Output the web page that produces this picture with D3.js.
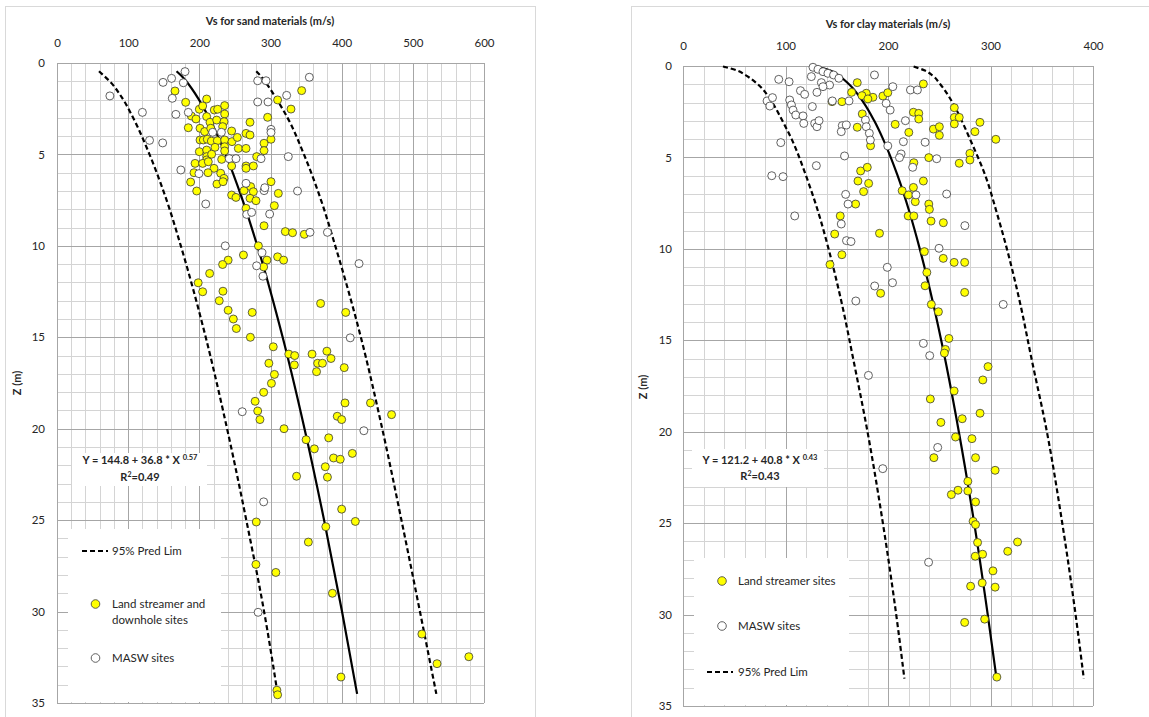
<!DOCTYPE html>
<html><head><meta charset="utf-8">
<script src="https://cdn.jsdelivr.net/npm/d3@7"></script>
<style>
body{margin:0;background:#fff}
svg{display:block}
text{font-family:Lato,"Open Sans",sans-serif;fill:#262626}
</style>
</head><body>
<svg id="c" width="1149" height="717"></svg>
<script>
// ---------------- DATA ----------------
const sandXTicks = [0, 100, 200, 300, 400, 500, 600];
const clayXTicks = [0, 100, 200, 300, 400];
const depthTicks = [0, 5, 10, 15, 20, 25, 30, 35];

const sandTitle = "Vs for sand materials (m/s)";
const clayTitle = "Vs for clay materials (m/s)";
const depthTitle = "Z (m)";

// [Vs (m/s), Z (m)]
const sandLand = [
 [165.8,1.53],[180.8,2.15],[210.3,1.97],[343.8,1.51],[310,2.02],[328.8,2.52],[200,2.53],[204.7,2.35],
 [221,2.57],[225.8,2.53],[235.6,2.33],[235.6,2.79],[188.8,2.9],[195.3,3.06],[210.3,2.93],[215,3.24],
 [224.4,3.12],[234.7,3.21],[232.8,3.48],[184.5,3.54],[201,3.57],[207.5,3.75],[216,3.57],[271.2,3.24],
 [296,2.97],[245.4,3.72],[265.6,3.85],[271.2,3.94],[300.7,4.17],[290.9,4.39],[290.9,4.79],[201,4.21],
 [205.6,4.21],[211.2,4.17],[216.9,4.27],[225.3,4.25],[235.6,4.21],[235.6,4.58],[235.6,4.81],[245.9,4.3],
 [253.4,4.07],[254.8,4.67],[265.6,4.67],[222,4.61],[200,4.85],[210.3,4.76],[210.3,5.12],[210.3,5.3],
 [217.3,4.99],[231.4,5.27],[280.6,5.12],[194,5.49],[204.7,5.49],[212.6,5.4],[220.6,5.76],[212.2,6.0],
 [265.6,5.63],[265.6,5.76],[275.9,5.63],[245.4,5.63],[192.5,6.0],[230,6.03],[187.8,6.51],[224.7,6.62],
 [234.7,6.31],[233.3,6.49],[196.3,7.0],[245.4,7.22],[251.5,7.35],[262.8,6.98],[272.1,6.76],[275.9,7.04],
 [271.2,7.4],[279.6,7.53],[300.7,6.49],[311,7.13],[305.4,7.8],[265.6,7.95],[290.9,8.9],[320.8,9.22],
 [331,9.28],[347.5,9.37],
 [283,10.0],[262,10.5],[310,10.6],[318.4,10.78],[295,10.78],[240.5,10.78],[232.7,11.02],[290.4,11.15],
 [214.5,11.51],[198.4,12.02],[204.7,12.51],[233.2,12.48],[228,13.0],[370.4,13.15],[240.5,13.52],[274.3,13.64],
 [405.7,13.64],[247.8,14.0],[252,14.52],[271.7,15.0],[303.9,15.52],[325.7,15.92],[334,16.0],[358.4,15.92],
 [379.2,15.76],[385,16.16],[297.7,16.42],[333.5,16.51],[366.2,16.42],[373,16.42],[364.7,16.88],[403.6,16.66],
 [305.5,17.03],[301.3,17.52],[290.4,18.01],[278.4,18.5],[404.7,18.59],[440.5,18.59],[282,19.03],[285.2,19.5],
 [393.8,19.32],[400,19.5],[470.1,19.23],[319,20.0],[350,20.6],[381.8,20.5],[361.6,21.1],[415,21.35],
 [388.6,21.6],[398,21.67],[377,22.08],[336.6,22.6],[380,22.65],[400,24.4],[280,25.1],[419.2,25.07],
 [377.7,25.36],[353.2,26.2],[279.5,27.42],[307.5,27.86],[387,29.0],[512.7,31.23],[578.7,32.47],[534,32.85],
 [399,33.58],[309,34.3],[310,34.55]
];
const sandMasw = [
 [179.9,0.47],[149,1.06],[161,0.84],[177.5,1.08],[162,1.93],[120,2.7],[167,2.81],[184.5,2.7],
 [130,4.23],[148.5,4.37],[174,5.85],[199.5,6.05],[209,7.71],[282,0.97],[293.7,0.97],[354.6,0.78],
 [322.7,1.77],[282,2.13],[296.5,2.13],[300.7,3.63],[300.7,3.8],[218.7,3.79],[231,3.79],[242,5.23],
 [251.5,5.23],[286.7,5.23],[325,5.12],[265.6,6.58],[291,6.98],[292,6.82],[338,7.0],[266.5,8.28],
 [273.5,8.17],[298.8,8.26],[355.5,9.26],[380,9.26],[74.3,1.8],[236.4,10.0],[288,10.38],[280.5,11.09],
 [424.4,10.97],[289.4,11.66],[412,15.03],[260.3,19.07],[431.2,20.11],[290.4,24.0],[282.6,30.04]
];
const sandFit = [[168,0.45],[174.8,0.7],[181.6,1],[199.4,2],[213.6,3],[236.9,5],[260.8,7.5],[281.5,10],
 [317.1,15],[347.8,20],[375.3,25],[400.5,30],[421.7,34.5]];
const sandLower = [[59,0.45],[66,0.7],[74,1],[93,2],[107,3],[130,5],[154,7.5],[174,10],
 [209,15],[239,20],[266,25],[291,30],[310,34.5]];
const sandUpper = [[280,0.45],[286,0.7],[292,1],[309,2],[324,3],[347,5],[371,7.5],[391,10],
 [427,15],[457,20],[484,25],[510,30],[533,34.5]];

const clayLand = [
 [170,0.91],[234.5,0.98],[164.5,1.44],[178.8,1.49],[174.6,1.62],[185.3,1.71],[195,1.64],[199.8,1.46],
 [145.4,1.95],[155.1,1.95],[180.4,1.8],[174.9,2.62],[224.8,2.53],[230,2.59],[230,2.9],[264.7,2.28],
 [264.7,2.81],[264.7,3.17],[269.5,2.81],[207,3.19],[220.3,3.63],[244.3,3.45],[250.1,3.32],[250.1,3.79],
 [284.8,3.59],[289.7,3.08],[305.2,4.01],[170,3.35],[183,4.36],[225.2,5.29],[239.8,5.01],[269.5,5.32],
 [279.9,4.78],[279.9,5.14],[173.3,5.74],[179.8,5.54],[170.7,6.29],[181.1,6.42],[176.2,6.87],[213.8,6.82],
 [220,7.05],[224.8,6.64],[234.5,6.29],[226.6,7.42],[239.8,7.55],[240.4,7.84],[219.7,8.2],[225.2,8.2],
 [242,8.48],[254,8.57],[168.4,7.55],[153.4,8.2],[191.7,9.15],[148,9.19],
 [143.4,10.86],[155,10.32],[235.5,10.15],[253.9,10.52],[264.5,10.74],[274.8,10.74],[274.8,12.38],[192.8,12.43],
 [237.9,11.29],[236.2,12.02],[242.3,13.04],[249.2,13.44],[259.4,14.9],[256,15.5],[255,15.7],[297.6,16.44],
 [292.5,17.17],[264.5,17.77],[241.3,18.21],[289.8,18.99],[272.4,19.29],[251.6,19.49],[265.9,20.29],[281.9,20.38],
 [244.8,21.42],[285.4,21.42],[304.5,22.11],[277.9,22.71],[268.3,23.2],[277.9,23.24],[261.8,23.44],[285.4,23.84],
 [283,24.9],[285.4,25.08],[287.4,26.06],[326.4,26.03],[316.8,26.54],[292.3,26.7],[285.1,26.81],[302.4,27.61],
 [280.6,28.45],[291.9,28.27],[304.5,28.5],[294.3,30.25],[274.8,30.43],[306.2,33.42]
];
const clayMasw = [
 [126.8,0.07],[131.7,0.18],[136.6,0.31],[141.4,0.4],[146.9,0.49],[152.1,0.67],[125.2,0.58],[93.4,0.73],
 [103.5,0.86],[186.8,0.49],[135,0.91],[143,1.04],[136.6,1.13],[130.7,1.44],[114.6,1.35],[118.7,1.55],
 [82,1.91],[87.3,1.73],[84.7,2.19],[104.1,1.86],[105.8,2.13],[107.4,2.41],[110,2.68],[117.1,2.73],
 [117.8,3.14],[126.2,2.22],[128.5,3.14],[130.7,3.32],[132.7,2.99],[145.7,1.91],[162,1.91],[155.4,3.26],
 [159.3,3.23],[154.4,3.59],[178,2.95],[178.8,3.32],[181.8,3.68],[182.8,4.05],[204.7,1.13],[198.2,2.04],
 [202.1,2.41],[221.9,1.31],[228.7,1.31],[217,2.99],[215,4.14],[199.8,4.37],[212.8,4.81],[211.2,5.01],
 [236.2,4.17],[247.5,5.07],[224.1,5.54],[227.3,7.05],[257.2,7.0],[275,8.73],[95.4,4.19],[86.6,6.0],
 [97.6,6.05],[130.1,5.45],[157.6,4.92],[158.7,7.02],[161,7.55],[109,8.2],[154.4,8.64],
 [159.5,9.55],[163.9,9.6],[249.8,9.97],[199.3,11.01],[204.4,11.85],[187,12.03],[168.6,12.85],[312.4,13.04],
 [234.5,15.17],[240.7,15.84],[180.9,16.92],[248.5,20.86],[194.9,22.02],[239.6,27.14]
];
const clayFit = [[130,0.03],[143.7,0.25],[151.5,0.5],[162,1],[176.2,2],[186.6,3],[195.2,4],[209.4,6],
 [221,8],[231,10],[244.1,13],[255.6,16],[269.1,20],[284.1,25],[297.3,30],[305.9,33.5]];
const clayLower = [[39,0.03],[53,0.25],[61,0.5],[73,1],[87,2],[97,3],[106,4],[120,6],
 [132,8],[142,10],[155,13],[166,16],[180,20],[195,25],[208,30],[216,33.5]];
const clayUpper = [[225,0.03],[236,0.25],[243,0.5],[251,1],[263,2],[272,3],[280,4],[295,6],
 [306,8],[316,10],[329,13],[340,16],[355,20],[370,25],[383,30],[391,33.5]];

const sandEq = ["Y = 144.8 +  36.8 * X ", "0.57", "R", "2", "=0.49"];
const clayEq = ["Y = 121.2 +  40.8 * X ", "0.43", "R", "2", "=0.43"];
const sandLegend = ["95% Pred Lim", "Land streamer and", "downhole  sites", "MASW sites"];
const clayLegend = ["Land streamer sites", "MASW sites", "95% Pred Lim"];

// ---------------- DRAW ----------------
const svg = d3.select("#c");
const YELLOW = "#ffff00";

function panel(o) {
  const g = svg.append("g");
  g.append("rect").attr("x", o.frame[0] + 0.5).attr("y", o.frame[1] + 0.5)
    .attr("width", o.frame[2]).attr("height", o.frame[3])
    .attr("fill", "#fff").attr("stroke", "#d9d9d9");

  const x = d3.scaleLinear().domain([0, o.xMax]).range([o.L, o.R]);
  const y = d3.scaleLinear().domain([0, 35]).range([o.T, o.B]);

  const gx = d3.range(0, o.xMax + 1, 20), gy = d3.range(0, 36, 1);
  g.append("g").selectAll("line").data(gx.filter(v => v % 100 !== 0)).join("line")
    .attr("x1", d => Math.round(x(d)) + 0.5).attr("x2", d => Math.round(x(d)) + 0.5)
    .attr("y1", o.T).attr("y2", o.B).attr("stroke", "#d4d4d4");
  g.append("g").selectAll("line").data(gy.filter(v => v % 5 !== 0)).join("line")
    .attr("y1", d => Math.round(y(d)) + 0.5).attr("y2", d => Math.round(y(d)) + 0.5)
    .attr("x1", o.L).attr("x2", o.R).attr("stroke", "#d4d4d4");
  g.append("g").selectAll("line").data(o.xTicks).join("line")
    .attr("x1", d => Math.round(x(d)) + 0.5).attr("x2", d => Math.round(x(d)) + 0.5)
    .attr("y1", o.T).attr("y2", o.B).attr("stroke", "#a6a6a6");
  g.append("g").selectAll("line").data(depthTicks).join("line")
    .attr("y1", d => Math.round(y(d)) + 0.5).attr("y2", d => Math.round(y(d)) + 0.5)
    .attr("x1", o.L).attr("x2", o.R).attr("stroke", "#a6a6a6");

  const ax = d3.axisTop(x).tickValues(o.xTicks).tickSize(0).tickPadding(0);
  const axg = g.append("g").attr("transform", `translate(0,${o.xLabY})`).call(ax);
  axg.select(".domain").remove();
  axg.selectAll("text").attr("font-size", 11.5).attr("fill", "#404040")
     .attr("font-family", "Lato").attr("dy", 0);
  const ay = d3.axisLeft(y).tickValues(depthTicks).tickSize(0).tickPadding(0);
  const ayg = g.append("g").attr("transform", `translate(${o.yLabX},0)`).call(ay);
  ayg.select(".domain").remove();
  ayg.selectAll("text").attr("font-size", 11.5).attr("fill", "#404040").attr("font-family", "Lato");

  g.append("text").attr("x", o.titleX).attr("y", o.titleY).attr("text-anchor", "middle")
    .attr("font-weight", "bold").attr("font-size", 11).text(o.title);
  g.append("text").attr("transform", `translate(${o.zX},${o.zY}) rotate(-90)`)
    .attr("text-anchor", "middle").attr("font-weight", "bold").attr("font-size", 11).text(depthTitle);

  const eb = o.eqBox;
  g.append("rect").attr("x", eb[0]).attr("y", eb[1]).attr("width", eb[2]).attr("height", eb[3]).attr("fill", "#fff");
  const t1 = g.append("text").attr("x", o.eqX).attr("y", o.eqY1).attr("text-anchor", "middle")
    .attr("font-weight", "bold").attr("font-size", 11);
  t1.append("tspan").text(o.eq[0]);
  t1.append("tspan").attr("font-size", 7.5).attr("dy", -4).text(o.eq[1]);
  const t2 = g.append("text").attr("x", o.eqX).attr("y", o.eqY2).attr("text-anchor", "middle")
    .attr("font-weight", "bold").attr("font-size", 11);
  t2.append("tspan").text(o.eq[2]);
  t2.append("tspan").attr("font-size", 7).attr("dy", -4).text(o.eq[3]);
  t2.append("tspan").attr("dy", 4).text(o.eq[4]);

  const lb = o.legBox;
  g.append("rect").attr("x", lb[0]).attr("y", lb[1]).attr("width", lb[2]).attr("height", lb[3]).attr("fill", "#fff");

  const line = d3.line().x(d => x(d[0])).y(d => y(d[1])).curve(d3.curveMonotoneY);
  [o.lower, o.upper].forEach(c => g.append("path").datum(c).attr("d", line)
    .attr("fill", "none").attr("stroke", "#000").attr("stroke-width", 2.2).attr("stroke-dasharray", "5,3"));
  g.append("path").datum(o.fit).attr("d", line).attr("fill", "none")
    .attr("stroke", "#000").attr("stroke-width", 2.2);

  const r = 4;
  g.append("g").selectAll("circle").data(o.land).join("circle")
    .attr("cx", d => x(d[0])).attr("cy", d => y(d[1])).attr("r", r)
    .attr("fill", YELLOW).attr("stroke", "#3a3a3a").attr("stroke-width", 0.8);
  g.append("g").selectAll("circle").data(o.masw).join("circle")
    .attr("cx", d => x(d[0])).attr("cy", d => y(d[1])).attr("r", r)
    .attr("fill", "#fff").attr("stroke", "#3a3a3a").attr("stroke-width", 0.8);

  o.legend.forEach(it => {
    if (it.type === "dash") {
      g.append("line").attr("x1", it.x1).attr("x2", it.x2).attr("y1", it.y).attr("y2", it.y)
        .attr("stroke", "#000").attr("stroke-width", 2.2).attr("stroke-dasharray", "5,3");
    } else {
      g.append("circle").attr("cx", it.mx).attr("cy", it.y).attr("r", 4.3)
        .attr("fill", it.type === "land" ? YELLOW : "#fff").attr("stroke", "#3a3a3a").attr("stroke-width", 0.8);
    }
    it.lines.forEach((s, i) => g.append("text").attr("x", it.tx).attr("y", it.y + 4 + i * 16)
      .attr("font-size", 11.5).attr("fill", "#404040").text(s));
  });
}

panel({
  frame: [5, 6, 530, 730],
  L: 57, R: 484, T: 63, B: 703, xMax: 600, xTicks: sandXTicks,
  xLabY: 47, yLabX: 45,
  title: sandTitle, titleX: 270, titleY: 25, zX: 21, zY: 383,
  eqBox: [72, 453, 135, 33], eq: sandEq, eqX: 140, eqY1: 464, eqY2: 481,
  legBox: [68, 529, 153, 173],
  fit: sandFit, lower: sandLower, upper: sandUpper, land: sandLand, masw: sandMasw,
  legend: [
    {type: "dash", x1: 82, x2: 108, y: 551, tx: 112, lines: [sandLegend[0]]},
    {type: "land", mx: 95.5, y: 604, tx: 112, lines: [sandLegend[1], sandLegend[2]]},
    {type: "masw", mx: 95.5, y: 658, tx: 112, lines: [sandLegend[3]]}
  ]
});

panel({
  frame: [631, 6, 560, 730],
  L: 683, R: 1093, T: 66, B: 706, xMax: 400, xTicks: clayXTicks,
  xLabY: 50, yLabX: 672,
  title: clayTitle, titleX: 888, titleY: 28, zX: 647, zY: 387,
  eqBox: [692, 449, 132, 38], eq: clayEq, eqX: 760, eqY1: 464, eqY2: 480,
  legBox: [694, 558, 155, 147],
  fit: clayFit, lower: clayLower, upper: clayUpper, land: clayLand, masw: clayMasw,
  legend: [
    {type: "land", mx: 722, y: 581, tx: 738, lines: [clayLegend[0]]},
    {type: "masw", mx: 722, y: 626, tx: 738, lines: [clayLegend[1]]},
    {type: "dash", x1: 707, x2: 733, y: 672, tx: 738, lines: [clayLegend[2]]}
  ]
});
</script>
</body></html>
